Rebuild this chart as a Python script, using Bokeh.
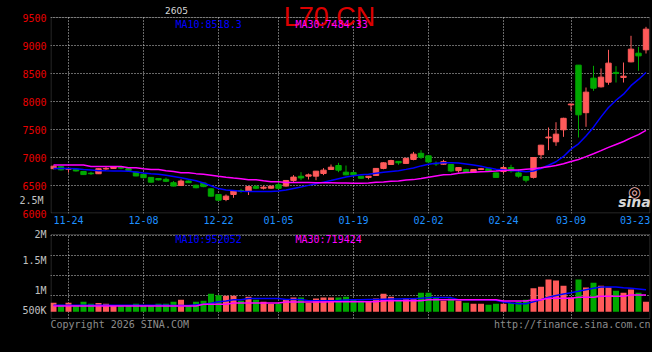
from bokeh.plotting import figure
from bokeh.layouts import column
from bokeh.models import ColumnDataSource, FixedTicker, Label, LinearAxis, BoxAnnotation
from bokeh.embed import file_html
from bokeh.resources import INLINE

# ---------------- data ----------------
dates = ["11-20", "11-21", "11-24", "11-25", "11-26", "11-27", "11-28", "12-01", "12-02", "12-03",
         "12-04", "12-05", "12-08", "12-09", "12-10", "12-11", "12-12", "12-15", "12-16", "12-17",
         "12-18", "12-19", "12-22", "12-23", "12-24", "12-25", "12-26", "12-29", "12-30", "12-31",
         "01-05", "01-06", "01-07", "01-08", "01-09", "01-12", "01-13", "01-14", "01-15", "01-16",
         "01-19", "01-20", "01-21", "01-22", "01-23", "01-26", "01-27", "01-28", "01-29", "01-30",
         "02-02", "02-03", "02-04", "02-05", "02-06", "02-09", "02-10", "02-11", "02-12", "02-13",
         "02-24", "02-25", "02-26", "02-27", "03-02", "03-03", "03-04", "03-05", "03-06", "03-09",
         "03-10", "03-11", "03-12", "03-13", "03-16", "03-17", "03-18", "03-19", "03-20", "03-23"]

opens = [6800, 6835, 6790, 6790, 6750, 6720, 6710, 6795, 6805, 6830,
         6800, 6740, 6700, 6645, 6625, 6610, 6550, 6500, 6580, 6505,
         6545, 6440, 6340, 6250, 6340, 6410, 6400, 6480, 6452, 6452,
         6515, 6490, 6590, 6665, 6667, 6667, 6714, 6786, 6857, 6738,
         6730, 6665, 6645, 6680, 6805, 6875, 6930, 6895, 6965, 7075,
         7030, 6895, 6880, 6875, 6765, 6785, 6735, 6785, 6800, 6725,
         6750, 6820, 6725, 6660, 6645, 7050, 7350, 7280, 7495, 7940,
         8649, 7800, 8417, 8262, 8345, 8520, 8430, 8708, 8863, 8923]
highs = [6855, 6850, 6815, 6800, 6760, 6745, 6805, 6830, 6845, 6835,
         6810, 6745, 6705, 6650, 6630, 6640, 6580, 6610, 6590, 6515,
         6550, 6450, 6345, 6340, 6415, 6440, 6490, 6510, 6500, 6495,
         6595, 6595, 6685, 6738, 6714, 6760, 6810, 6875, 6905, 6857,
         6745, 6670, 6670, 6810, 6915, 6960, 6935, 6995, 7100, 7130,
         7040, 6930, 6960, 6880, 6825, 6800, 6790, 6815, 6805, 6730,
         6850, 6870, 6790, 6665, 7005, 7225, 7536, 7630, 7710, 7960,
         8650, 8250, 8637, 8590, 8923, 8631, 8696, 9173, 8976, 9333]
lows = [6790, 6770, 6730, 6750, 6690, 6690, 6705, 6780, 6800, 6790,
        6760, 6665, 6625, 6550, 6590, 6560, 6485, 6490, 6545, 6450,
        6470, 6300, 6230, 6220, 6280, 6370, 6330, 6435, 6430, 6445,
        6440, 6480, 6565, 6595, 6607, 6595, 6685, 6786, 6738, 6684,
        6680, 6620, 6610, 6675, 6790, 6870, 6870, 6890, 6950, 6975,
        6910, 6850, 6870, 6740, 6730, 6725, 6730, 6780, 6745, 6640,
        6715, 6730, 6640, 6555, 6625, 6970, 7131, 7208, 7369, 7835,
        7357, 7548, 8190, 8250, 8298, 8339, 8339, 8700, 8548, 8857]
closes = [6845, 6780, 6805, 6760, 6695, 6710, 6800, 6805, 6835, 6810,
          6770, 6670, 6640, 6560, 6600, 6575, 6490, 6580, 6550, 6460,
          6480, 6310, 6238, 6310, 6410, 6395, 6480, 6450, 6470, 6488,
          6450, 6590, 6650, 6635, 6690, 6756, 6774, 6827, 6774, 6690,
          6690, 6630, 6665, 6805, 6905, 6945, 6905, 6985, 7060, 7005,
          6920, 6885, 6925, 6760, 6820, 6730, 6785, 6800, 6750, 6645,
          6820, 6760, 6667, 6595, 7000, 7220, 7365, 7417, 7700, 7955,
          7762, 8167, 8238, 8435, 8685, 8500, 8452, 8935, 8815, 9292]

ma10 = [6805, 6805, 6805, 6800, 6785, 6775, 6765, 6762, 6760, 6760,
        6755, 6740, 6722, 6710, 6700, 6682, 6660, 6637, 6610, 6585,
        6545, 6495, 6445, 6420, 6410, 6398, 6394, 6392, 6392, 6394,
        6402, 6418, 6445, 6472, 6502, 6532, 6560, 6588, 6620, 6650,
        6675, 6690, 6702, 6720, 6738, 6752, 6765, 6788, 6812, 6850,
        6880, 6898, 6905, 6905, 6900, 6885, 6865, 6845, 6815, 6792,
        6780, 6768, 6760, 6745, 6760, 6804, 6862, 6924, 7019, 7150,
        7244, 7385, 7542, 7726, 7894, 8022, 8131, 8283, 8394, 8518.3]
ma30 = [6865, 6865, 6865, 6865, 6865, 6838, 6838, 6838, 6838, 6838,
        6816, 6816, 6798, 6786, 6786, 6762, 6750, 6726, 6726, 6712,
        6700, 6685, 6665, 6648, 6632, 6619, 6602, 6602, 6583, 6566,
        6566, 6555, 6555, 6555, 6555, 6550, 6548, 6548, 6546, 6545,
        6542, 6542, 6545, 6558, 6562, 6575, 6580, 6598, 6605, 6625,
        6648, 6670, 6690, 6698, 6718, 6730, 6735, 6744, 6750, 6758,
        6770, 6775, 6778, 6790, 6800, 6816, 6836, 6856, 6887, 6929,
        6965, 7016, 7068, 7122, 7181, 7233, 7285, 7350, 7408, 7484.33]

volumes = [395000, 309000, 395000, 295000, 438000, 352000, 380000, 352000, 295000, 295000,
           295000, 352000, 295000, 295000, 352000, 352000, 438000, 524000, 295000, 438000,
           481000, 783000, 711000, 697000, 697000, 481000, 654000, 524000, 438000, 352000,
           352000, 524000, 611000, 611000, 395000, 568000, 611000, 611000, 611000, 654000,
           524000, 481000, 438000, 568000, 783000, 654000, 524000, 568000, 568000, 826000,
           826000, 611000, 481000, 568000, 481000, 395000, 352000, 352000, 309000, 352000,
           352000, 395000, 438000, 524000, 1013000, 1085000, 1387000, 1344000, 1128000, 611000,
           1387000, 1042000, 1257000, 1128000, 1042000, 912000, 826000, 956000, 826000, 438000]
vol_ma10 = [280000] * 16 + [275000, 275000, 275000, 300000,
            330000, 370000, 430000, 470000, 520000, 520000, 570000, 570000, 570000, 570000,
            570000, 530000, 530000, 530000, 480000, 480000, 480000, 480000, 490000, 505000,
            515000, 520000, 525000, 530000, 540000, 550000, 555000, 560000, 565000, 580000,
            611000, 611000, 611000, 611000, 524000, 524000, 524000, 524000, 524000, 500000,
            420000, 380000, 345000, 350000, 430000, 520000, 625000, 700000, 769000, 820000,
            884000, 950000, 1013000, 1071000, 1071000, 1071000, 1040000, 1013000, 985000, 952052]
vol_ma30 = [251000] * 20 + [323000] * 4 + [380000] * 7 + [425000] * 6 + [438000] * 7 + \
           [481000] * 6 + [524000] * 10 + [467000] * 4 + [524000] * 2 + [582000] * 4 + \
           [625000] * 3 + [668000] * 4 + [720000, 720000, 719424]

date_labels = ["11-24", "12-08", "12-22", "01-05", "01-19", "02-02", "02-24", "03-09", "03-23"]
price_ticks = [6000, 6500, 7000, 7500, 8000, 8500, 9000, 9500]
vol_tick_labels = ["500K", "1M", "1.5M", "2M", "2.5M"]
symbol = "L70.CN"
code_text = "2605"

# ---------------- styling ----------------
RED, GREEN = "#ff5a5a", "#00a800"
BLUE, MAGENTA = "#0000ff", "#ff00ff"
GRID = "#d0d0d0"
BORDER = "#a8a8a8"
MONO = "DejaVu Sans Mono"

n = len(dates)
xs = list(range(n))
cols = [RED if c >= o else GREEN for o, c in zip(opens, closes)]
src = ColumnDataSource(dict(
    x=xs, open=opens, high=highs, low=lows, close=closes,
    top=[max(o, c) for o, c in zip(opens, closes)],
    bot=[min(o, c) for o, c in zip(opens, closes)],
    color=cols, vol=volumes))

tick_idx = [dates.index(d) for d in date_labels]
grid_idx = tick_idx[:-1]
# like the original, the last date label is pulled left so that it stays inside the chart
last_label_pos = tick_idx[-1] - 1.45

# pixel helpers (page pixel -> data), used only to place texts and panel frames
PX0, PXS = 53, 7.5
def fx(px):
    return (px - PX0) / PXS
def fy1(py):
    return 9500 - (py - 17) / 0.056
def fy2(py):
    return (311.3 - py) * 43100


def style_axis(ax, color, standoff):
    ax.axis_line_color = None
    ax.major_tick_line_color = None
    ax.minor_tick_line_color = None
    ax.major_tick_out = 0
    ax.major_tick_in = 0
    ax.minor_tick_out = 0
    ax.minor_tick_in = 0
    ax.major_label_text_font = MONO
    ax.major_label_text_font_size = "10px"
    ax.major_label_text_color = color
    ax.major_label_standoff = standoff


def base(fig):
    fig.background_fill_color = "black"
    fig.border_fill_color = "black"
    fig.outline_line_color = None
    for g in fig.grid:
        g.grid_line_color = GRID
        g.grid_line_dash = "1 2"
        g.grid_line_width = 1


def lab(fig, x, y, text, color, size="10px", font=MONO, align="left",
        baseline="middle", style="normal"):
    fig.add_layout(Label(x=x, y=y, text=text, text_color=color, text_font=font,
                         text_font_size=size, text_align=align,
                         text_baseline=baseline, text_font_style=style))


# ---------------- price panel ----------------
p1 = figure(width=652, height=228, x_range=(-0.4, n - 0.4), y_range=(6000, fy1(0)),
            output_backend="svg", toolbar_location=None,
            min_border_left=50, min_border_right=2, min_border_top=0, min_border_bottom=15)
base(p1)
style_axis(p1.yaxis[0], "#e80000", 4)
p1.yaxis.ticker = FixedTicker(ticks=price_ticks)
style_axis(p1.xaxis[0], "#1e90ff", 2)
p1.xaxis.ticker = FixedTicker(ticks=grid_idx + [last_label_pos])
overrides = {i: dates[i] for i in grid_idx}
overrides[last_label_pos] = date_labels[-1]
p1.xaxis.major_label_overrides = overrides
p1.xgrid.ticker = FixedTicker(ticks=grid_idx)
p1.xgrid.cross_bounds = (6000, 9500)
p1.ygrid.ticker = FixedTicker(ticks=price_ticks)

# volume-scale label that spills into the price panel's margin: a second left axis
# whose labels are pulled back (negative standoff) into the same column as the prices
spill = fy1(200)
vax = LinearAxis(ticker=FixedTicker(ticks=[spill]),
                 major_label_overrides={spill: vol_tick_labels[4]})
style_axis(vax, "#c0c0c0", -24)
p1.add_layout(vax, "left")

p1.add_layout(BoxAnnotation(left=fx(50.5), right=fx(649.5), bottom=fy1(212.5), top=9500,
                            fill_color=None, line_color=BORDER, line_width=1))

p1.segment(x0="x", y0="low", x1="x", y1="high", color="color", line_width=1, source=src)
p1.vbar(x="x", width=0.72, top="top", bottom="bot", fill_color="color",
        line_color="color", line_width=1, source=src)
p1.line(xs, ma10, color=BLUE, line_width=1.5)
p1.line(xs, ma30, color=MAGENTA, line_width=1.5)

lab(p1, fx(329), fy1(16), symbol, "#dd0000", size="27px",
    font="Liberation Sans", align="center")
lab(p1, fx(176), fy1(10), code_text, "#d8d8d8", size="9px", font="DejaVu Sans", align="center")
lab(p1, fx(175), fy1(24), "MA10:%.1f" % ma10[-1], BLUE)
lab(p1, fx(295), fy1(24), "MA30:%.2f" % ma30[-1], MAGENTA)
# sina watermark
lab(p1, fx(634), fy1(191), "\u25ce", "#f0b4b4", size="15px", font="DejaVu Sans", align="center")
lab(p1, fx(634), fy1(201), "sina", "#d8d8d8", size="14px", font="DejaVu Sans",
    align="center", style="bold italic")

# ---------------- volume panel ----------------
p2 = figure(width=652, height=124, x_range=p1.x_range, y_range=(fy2(334), fy2(228)),
            output_backend="svg", toolbar_location=None,
            min_border_left=50, min_border_right=2, min_border_top=0, min_border_bottom=18)
base(p2)
p2.xaxis.visible = False
vol_label_pos = [fy2(310), fy2(290), fy2(260), fy2(230.5)]
style_axis(p2.yaxis[0], "#c0c0c0", 4)
p2.yaxis.ticker = FixedTicker(ticks=vol_label_pos)
p2.yaxis.major_label_overrides = {v: t for v, t in zip(vol_label_pos, vol_tick_labels[:4])}
p2.xgrid.ticker = FixedTicker(ticks=grid_idx)
p2.xgrid.cross_bounds = (fy2(318), fy2(234))
p2.ygrid.ticker = FixedTicker(ticks=[fy2(295), fy2(275), fy2(255), fy2(235)])

p2.add_layout(BoxAnnotation(left=fx(50.5), right=fx(649.5), bottom=fy2(318), top=fy2(234),
                            fill_color=None, line_color=BORDER, line_width=1))

p2.vbar(x="x", width=0.8, top="vol", bottom=0, fill_color="color", line_color=None, source=src)
p2.line(xs, vol_ma10, color=BLUE, line_width=1.5)
p2.line(xs, vol_ma30, color=MAGENTA, line_width=1.5)

lab(p2, fx(175), fy2(239), "MA10:%d" % vol_ma10[-1], BLUE)
lab(p2, fx(295), fy2(239), "MA30:%d" % vol_ma30[-1], MAGENTA)
lab(p2, fx(50), fy2(324), "Copyright 2026 SINA.COM", "#8c8c8c")
lab(p2, fx(650), fy2(324), "http://finance.sina.com.cn", "#8c8c8c", align="right")

layout = column(p1, p2, styles={"background-color": "black"})
open("out.html", "w").write(file_html(layout, INLINE))
